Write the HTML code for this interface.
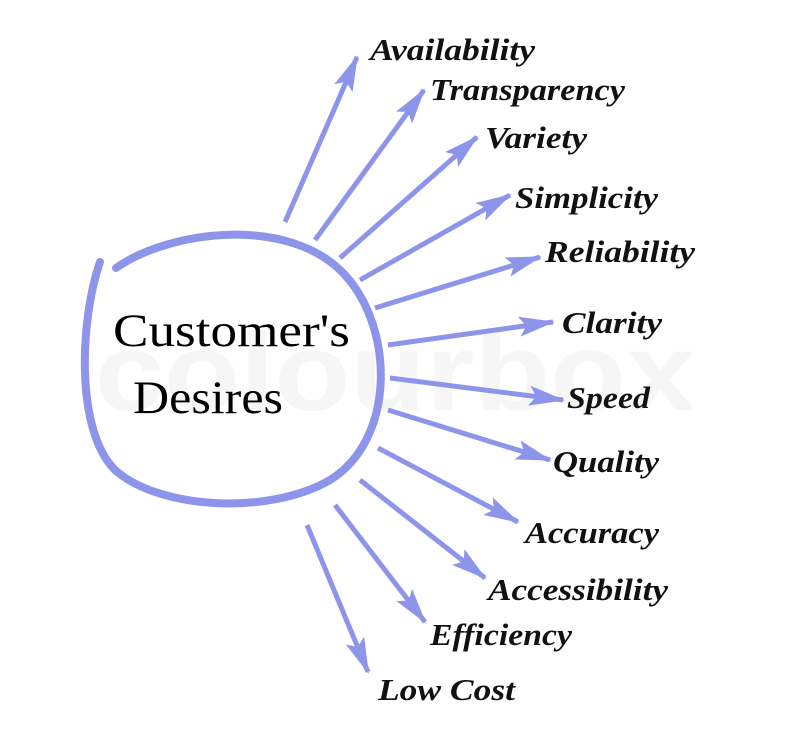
<!DOCTYPE html>
<html><head><style>body{margin:0;background:#fff}svg{display:block}</style></head>
<body>
<svg width="800" height="750" viewBox="0 0 800 750" xmlns="http://www.w3.org/2000/svg">
<defs>
<marker id="a" viewBox="0 0 36 20" refX="34" refY="10" markerWidth="36" markerHeight="20" markerUnits="userSpaceOnUse" orient="auto">
<path d="M0,0 L36,10 L0,20 L7,10 Z" fill="#8c95ea"/>
</marker>
</defs>
<text x="95" y="410" font-family="Liberation Sans, sans-serif" font-weight="bold" font-size="110" fill="#f6f6f6" textLength="600" lengthAdjust="spacingAndGlyphs">colourbox</text>
<path d="M116,268 C170,230 290,215 345,275 C395,330 395,440 330,480 C270,515 160,510 115,470 C75,430 80,320 100,262" fill="none" stroke="#8c95ea" stroke-width="8" stroke-linecap="round"/>
<g stroke="#8c95ea" stroke-width="5" marker-end="url(#a)">
<line x1="285" y1="222" x2="357" y2="57"/>
<line x1="315" y1="240" x2="424" y2="90"/>
<line x1="340" y1="258" x2="477" y2="137"/>
<line x1="360" y1="280" x2="510" y2="195"/>
<line x1="375" y1="308" x2="540" y2="257"/>
<line x1="388" y1="345" x2="553" y2="322"/>
<line x1="390" y1="378" x2="563" y2="400"/>
<line x1="388" y1="410" x2="550" y2="460"/>
<line x1="378" y1="448" x2="518" y2="522"/>
<line x1="360" y1="480" x2="485" y2="578"/>
<line x1="335" y1="505" x2="425" y2="622"/>
<line x1="307" y1="525" x2="368" y2="672"/>
</g>
<g font-family="Liberation Serif, serif" font-style="italic" font-weight="bold" font-size="31" fill="#111">
<text x="370" y="60" textLength="165" lengthAdjust="spacingAndGlyphs">Availability</text>
<text x="430" y="100" textLength="195" lengthAdjust="spacingAndGlyphs">Transparency</text>
<text x="485" y="148" textLength="102" lengthAdjust="spacingAndGlyphs">Variety</text>
<text x="515" y="208" textLength="143" lengthAdjust="spacingAndGlyphs">Simplicity</text>
<text x="545" y="262" textLength="150" lengthAdjust="spacingAndGlyphs">Reliability</text>
<text x="562" y="333" textLength="100" lengthAdjust="spacingAndGlyphs">Clarity</text>
<text x="567" y="408" textLength="83" lengthAdjust="spacingAndGlyphs">Speed</text>
<text x="553" y="472" textLength="106" lengthAdjust="spacingAndGlyphs">Quality</text>
<text x="525" y="543" textLength="134" lengthAdjust="spacingAndGlyphs">Accuracy</text>
<text x="488" y="600" textLength="180" lengthAdjust="spacingAndGlyphs">Accessibility</text>
<text x="430" y="645" textLength="142" lengthAdjust="spacingAndGlyphs">Efficiency</text>
<text x="378" y="700" textLength="137" lengthAdjust="spacingAndGlyphs">Low Cost</text>
</g>
<g font-family="Liberation Serif, serif" font-size="47" fill="#000">
<text x="113" y="346" textLength="237" lengthAdjust="spacingAndGlyphs">Customer's</text>
<text x="133" y="413" textLength="150" lengthAdjust="spacingAndGlyphs">Desires</text>
</g>
</svg>
</body></html>
